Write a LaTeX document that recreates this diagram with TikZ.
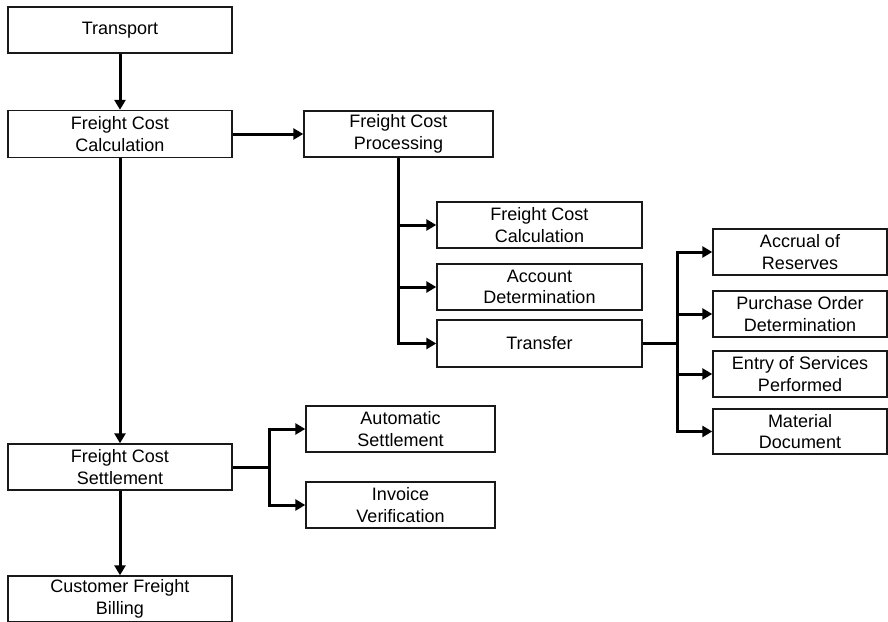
\documentclass[tikz,border=0pt]{standalone}
\usepackage{fontspec}
\setmainfont{Liberation Sans}
\usetikzlibrary{arrows.meta}

\begin{document}
\begin{tikzpicture}[x=1pt,y=-1pt,
  box/.style={draw=black!90, line width=1.4pt, fill=white, rectangle,
    inner sep=0pt, align=center,
    font=\fontsize{18pt}{21.5pt}\selectfont},
  link/.style={line width=3pt, -{Triangle[length=10pt,width=11pt]}},
  trunk/.style={line width=3pt}]
  \useasboundingbox (0,0) rectangle (888,621);
  \fill[white] (0,0) rectangle (888,621);
  \clip (0,0) rectangle (888,621);

  % left column
  \node[box, minimum width=224pt, minimum height=46pt] (transport) at (120,30) {Transport};
  \node[box, minimum width=224pt, minimum height=47pt] (fcc) at (120,134) {Freight Cost\\Calculation};
  \node[box, minimum width=224pt, minimum height=46pt] (fcs) at (120,467) {Freight Cost\\Settlement};
  \node[box, minimum width=224pt, minimum height=46pt] (cfb) at (120,599) {Customer Freight\\Billing};

  % processing branch
  \node[box, minimum width=189pt, minimum height=46pt] (fcp) at (398.5,134) {Freight Cost\\Processing};
  \node[box, minimum width=205pt, minimum height=46pt] (calc) at (539.5,225) {Freight Cost\\Calculation};
  \node[box, minimum width=205pt, minimum height=46pt] (acct) at (539.5,287) {Account\\Determination};
  \node[box, minimum width=205pt, minimum height=47pt] (transfer) at (539.5,343.5) {Transfer};

  % transfer branch
  \node[box, minimum width=174pt, minimum height=46pt] (accrual) at (800,252) {Accrual of\\Reserves};
  \node[box, minimum width=174pt, minimum height=46pt] (po) at (800,314) {Purchase Order\\Determination};
  \node[box, minimum width=174pt, minimum height=46pt] (entry) at (800,374) {Entry of Services\\Performed};
  \node[box, minimum width=174pt, minimum height=45pt] (material) at (800,431.5) {Material\\Document};

  % settlement branch
  \node[box, minimum width=189pt, minimum height=46pt] (auto) at (400.5,429) {Automatic\\Settlement};
  \node[box, minimum width=189pt, minimum height=46pt] (invoice) at (400.5,505) {Invoice\\Verification};

  % connectors
  \draw[link] (transport.south) -- (fcc.north);
  \draw[link] (fcc.east) -- (fcp.west);
  \draw[link] (fcc.south) -- (fcs.north);
  \draw[link] (fcs.south) -- (cfb.north);

  \draw[link] (fcp.south) |- (calc.west);
  \draw[link] (fcp.south) |- (acct.west);
  \draw[link] (fcp.south) |- (transfer.west);

  \draw[trunk] (transfer.east) -- ++(35,0) coordinate (tb);
  \draw[link] (tb) |- (accrual.west);
  \draw[link] (tb) |- (po.west);
  \draw[link] (tb) |- (entry.west);
  \draw[link] (tb) |- (material.west);

  \draw[trunk] (fcs.east) -- ++(37,0) coordinate (sb);
  \draw[link] (sb) |- (auto.west);
  \draw[link] (sb) |- (invoice.west);
\end{tikzpicture}
\end{document}
